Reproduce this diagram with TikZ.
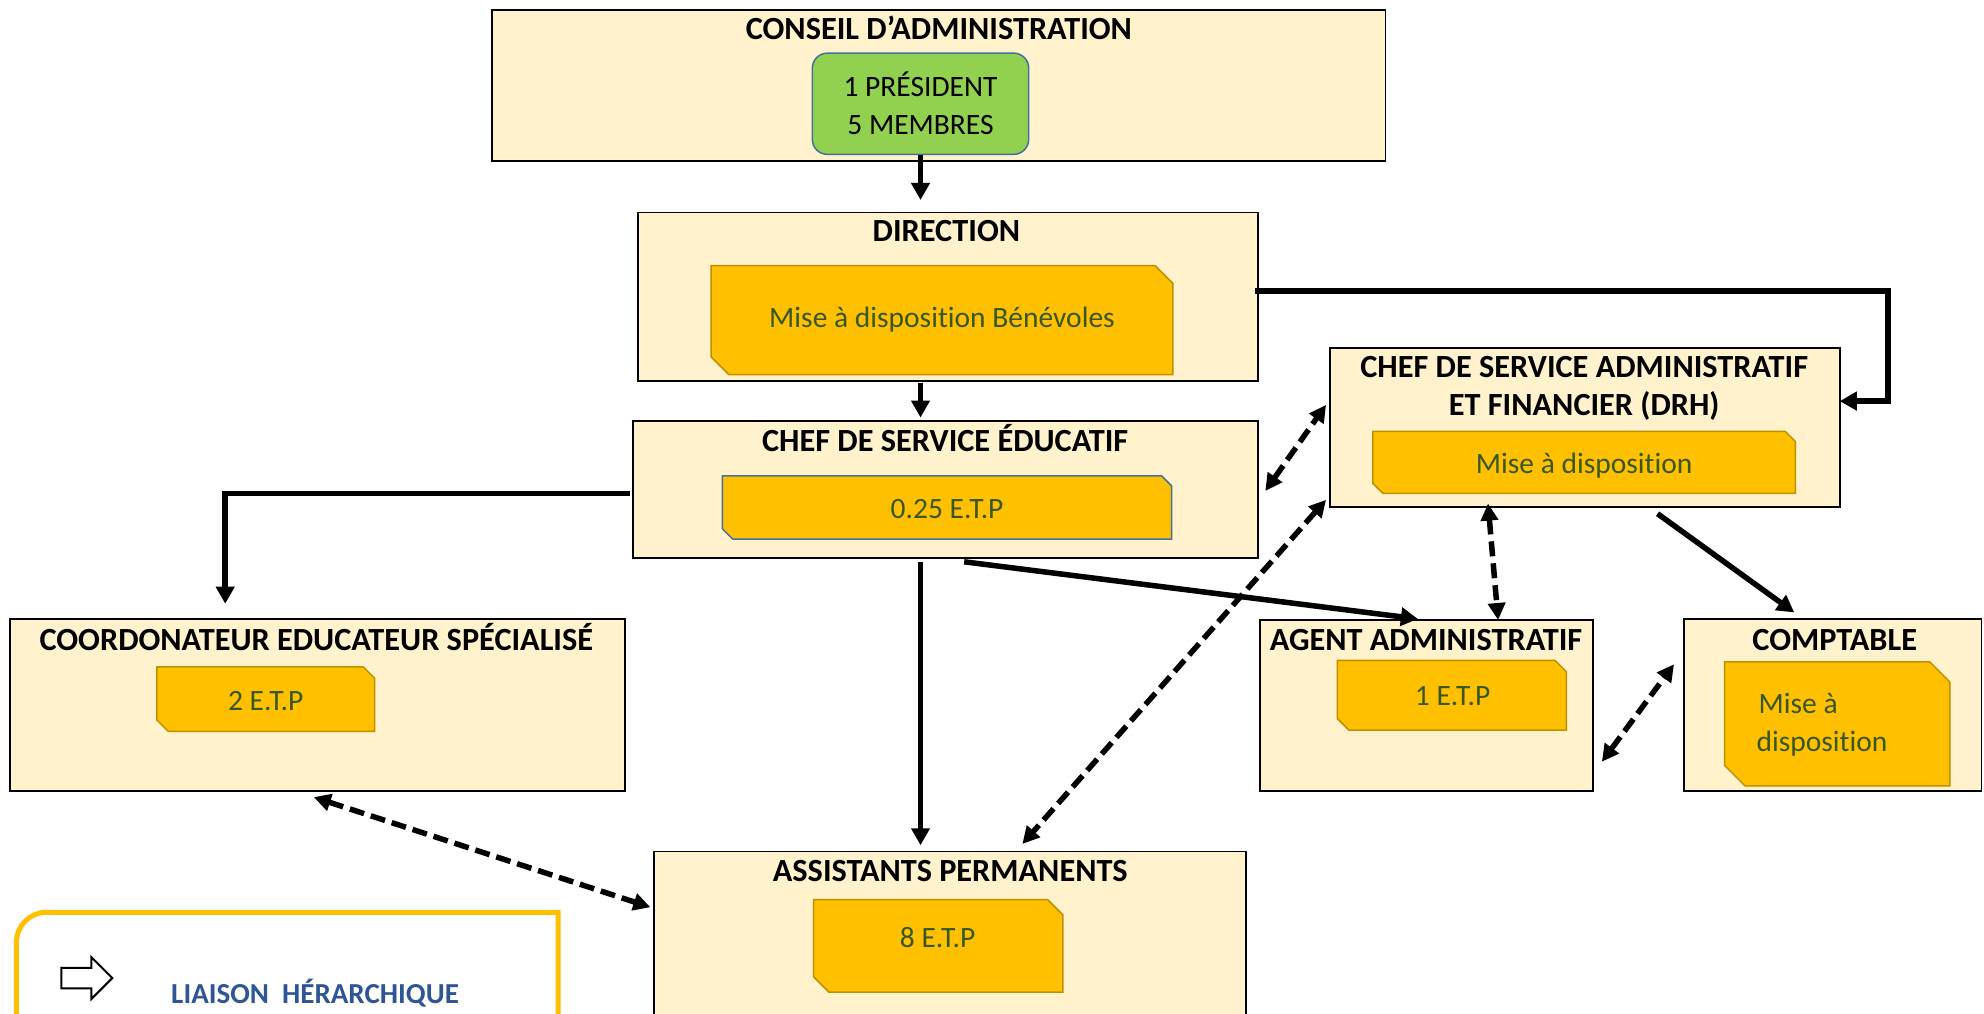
\documentclass[tikz,border=0pt]{standalone}
\usepackage{fontspec}
\setmainfont{Carlito}[Ligatures={NoCommon}]
\usetikzlibrary{arrows.meta,calc,shapes.arrows}
\definecolor{cream}{HTML}{FFF2CC}
\definecolor{gold}{HTML}{FFC000}
\definecolor{goldline}{HTML}{BF9000}
\definecolor{txtgreen}{HTML}{385723}
\definecolor{grn}{HTML}{92D050}
\definecolor{steel}{HTML}{41719C}
\definecolor{legblue}{HTML}{2F5597}
\newcommand\titlefont{\fontsize{32.3}{38}\selectfont\bfseries}
\newcommand\bodyfont{\fontsize{29.5}{38}\selectfont}
\newcommand\obox[5]{\node[obox, anchor=north west, minimum width={(#4-#2)*1.2653pt}, minimum height={(#5-#3)*1.2653pt}] (#1) at (#2,#3) {};}
\newcommand\snip[9]{%
  \draw[#7] (#2,#3) -- ({#4-#6},#3) -- (#4,{#3+#6}) -- (#4,#5) -- ({#2+#6},#5) -- (#2,{#5-#6}) -- cycle;
  \node[innertext] (#1) at (#8) {#9};}
\tikzset{
  obox/.style={draw=black, line width=1.8pt, fill=cream, inner sep=0pt, outer sep=0pt},
  ttl/.style={font=\titlefont, text=black, inner sep=0pt, anchor=base, align=center},
  snipgold/.style={fill=gold, draw=goldline, line width=1.5pt},
  snipblue/.style={fill=gold, draw=steel, line width=1.5pt},
  innertext/.style={font=\bodyfont, text=txtgreen, inner sep=0pt, align=center},
  grnbox/.style={draw=steel, line width=1.5pt, fill=grn, rounded corners=15pt, font=\bodyfont, text=black, align=center, inner sep=0pt},
  arr/.style={line width=5.5pt, -{Triangle[length=17pt,width=18pt]}},
  darr/.style={line width=5.5pt, dash pattern=on 15pt off 7pt, {Triangle[length=17pt,width=17pt]}-{Triangle[length=17pt,width=17pt]}},
  legbox/.style={draw=gold, line width=5pt},
}
\begin{document}
\begin{tikzpicture}[x=1.2653pt,y=-1.2653pt]
\clip (0,0) rectangle (1568,801);
\fill[white] (0,0) rectangle (1568,801);

% boxes
\obox{conseil}{389}{8}{1095}{127}
\node[ttl] (conseilT) at (742,31) {CONSEIL D’ADMINISTRATION};
\node[grnbox, minimum width={171*1.2653pt}, minimum height={80*1.2653pt}] (pres) at (727.5,82) {1 PRÉSIDENT\\5 MEMBRES};

\obox{dir}{504}{168}{994}{301}
\node[ttl] (dirT) at (748,191) {DIRECTION};
\snip{dirS}{562}{210}{927}{296}{14}{snipgold}{744.5,253}{Mise à disposition Bénévoles}

\obox{chef}{500}{333}{994}{441}
\node[ttl] (chefT) at (747,357) {CHEF DE SERVICE ÉDUCATIF};
\snip{chefS}{571}{376}{926}{426}{8}{snipblue}{748.5,402}{0.25 E.T.P}

\obox{csaf}{1051}{275}{1454}{401}
\node[ttl, anchor=center] (csafT) at (1252,307) {CHEF DE SERVICE ADMINISTRATIF\\ET FINANCIER (DRH)};
\snip{csafS}{1085}{341}{1419}{390}{8}{snipgold}{1252,368}{Mise à disposition}

\obox{coord}{8}{489}{494}{625}
\node[ttl] (coordT) at (250,514) {COORDONATEUR EDUCATEUR SPÉCIALISÉ};
\snip{coordS}{124}{527}{296}{578}{9}{snipgold}{210,554}{2 E.T.P}

\obox{agent}{996}{490}{1259}{625}
\node[ttl] (agentT) at (1127,514) {AGENT ADMINISTRATIF};
\snip{agentS}{1057}{522}{1238}{577}{9}{snipgold}{1148,550}{1 E.T.P}

\obox{compt}{1331}{489}{1566}{625}
\node[ttl] (comptT) at (1450,514) {COMPTABLE};
\snip{comptS}{1363}{523}{1541}{621}{16}{snipgold}{1440,573}{\mbox{}\ Mise à\hphantom{ition}\\disposition}

\obox{assist}{517}{673}{985}{840}
\node[ttl] (assistT) at (751,697) {ASSISTANTS PERMANENTS};
\snip{assistS}{643}{711}{840}{784}{12}{snipgold}{741,741}{8 E.T.P}

% legend
\draw[legbox] (13,840) -- (13,744.7) arc[start angle=180, end angle=90, radius=30pt] -- (441,721) -- (441,840);
\node[single arrow, draw=black, fill=white, line width=2pt, minimum height=51pt, inner xsep=0pt, inner ysep=9.3pt, single arrow head extend=10.5pt, single arrow head indent=0pt] (legarrow) at (64.5,773) {};
\node[font=\fontsize{29}{34}\selectfont\bfseries, text=legblue, inner sep=0pt] (legtext) at (249,785) {LIAISON\ \ HÉRARCHIQUE};

% solid connectors
\draw[arr, shorten >=12.6pt] (pres.south) -- (pres.south |- dir.north);
\draw[arr, shorten <=2.5pt, shorten >=3.8pt] (dir.south -| pres.south) -- (chef.north -| pres.south);
\draw[arr] ($(dir.east)+(-2,-4.5)$) -| ($(csaf.east)+(38,-21)$) -- ($(csaf.east)+(0,-21)$);
\draw[arr, shorten >=15pt] ($(chef.west)+(-2,3)$) -| ($(coord.north)+(-73,0)$);
\draw[arr, shorten <=3.8pt, shorten >=6.3pt] (chef.south -| pres.south) -- (assist.north -| pres.south);
\draw[arr, shorten >=8.8pt] ($(chef.south)+(15,3)$) -- (agent.north);
\draw[arr] ($(csaf.south)+(57.5,5)$) -- ($(compt.north)+(-30.5,-5)$);

% dashed connectors
\draw[darr] ($(chef.east)+(6,1)$) -- ($(csaf.west)+(-3,-18)$);
\draw[darr] ($(csaf.south west)+(-3,-6)$) -- ($(assist.north)+(57,-6)$);
\draw[darr] ($(csaf.south)+(-76.5,-3)$) -- ($(agent.north)+(56.5,0)$);
\draw[darr] ($(agent.east)+(7,44.5)$) -- ($(compt.west)+(-8,-32)$);
\draw[darr] ($(coord.south)+(-3,5)$) -- ($(assist.north west)+(-3,44)$);
\end{tikzpicture}
\end{document}
